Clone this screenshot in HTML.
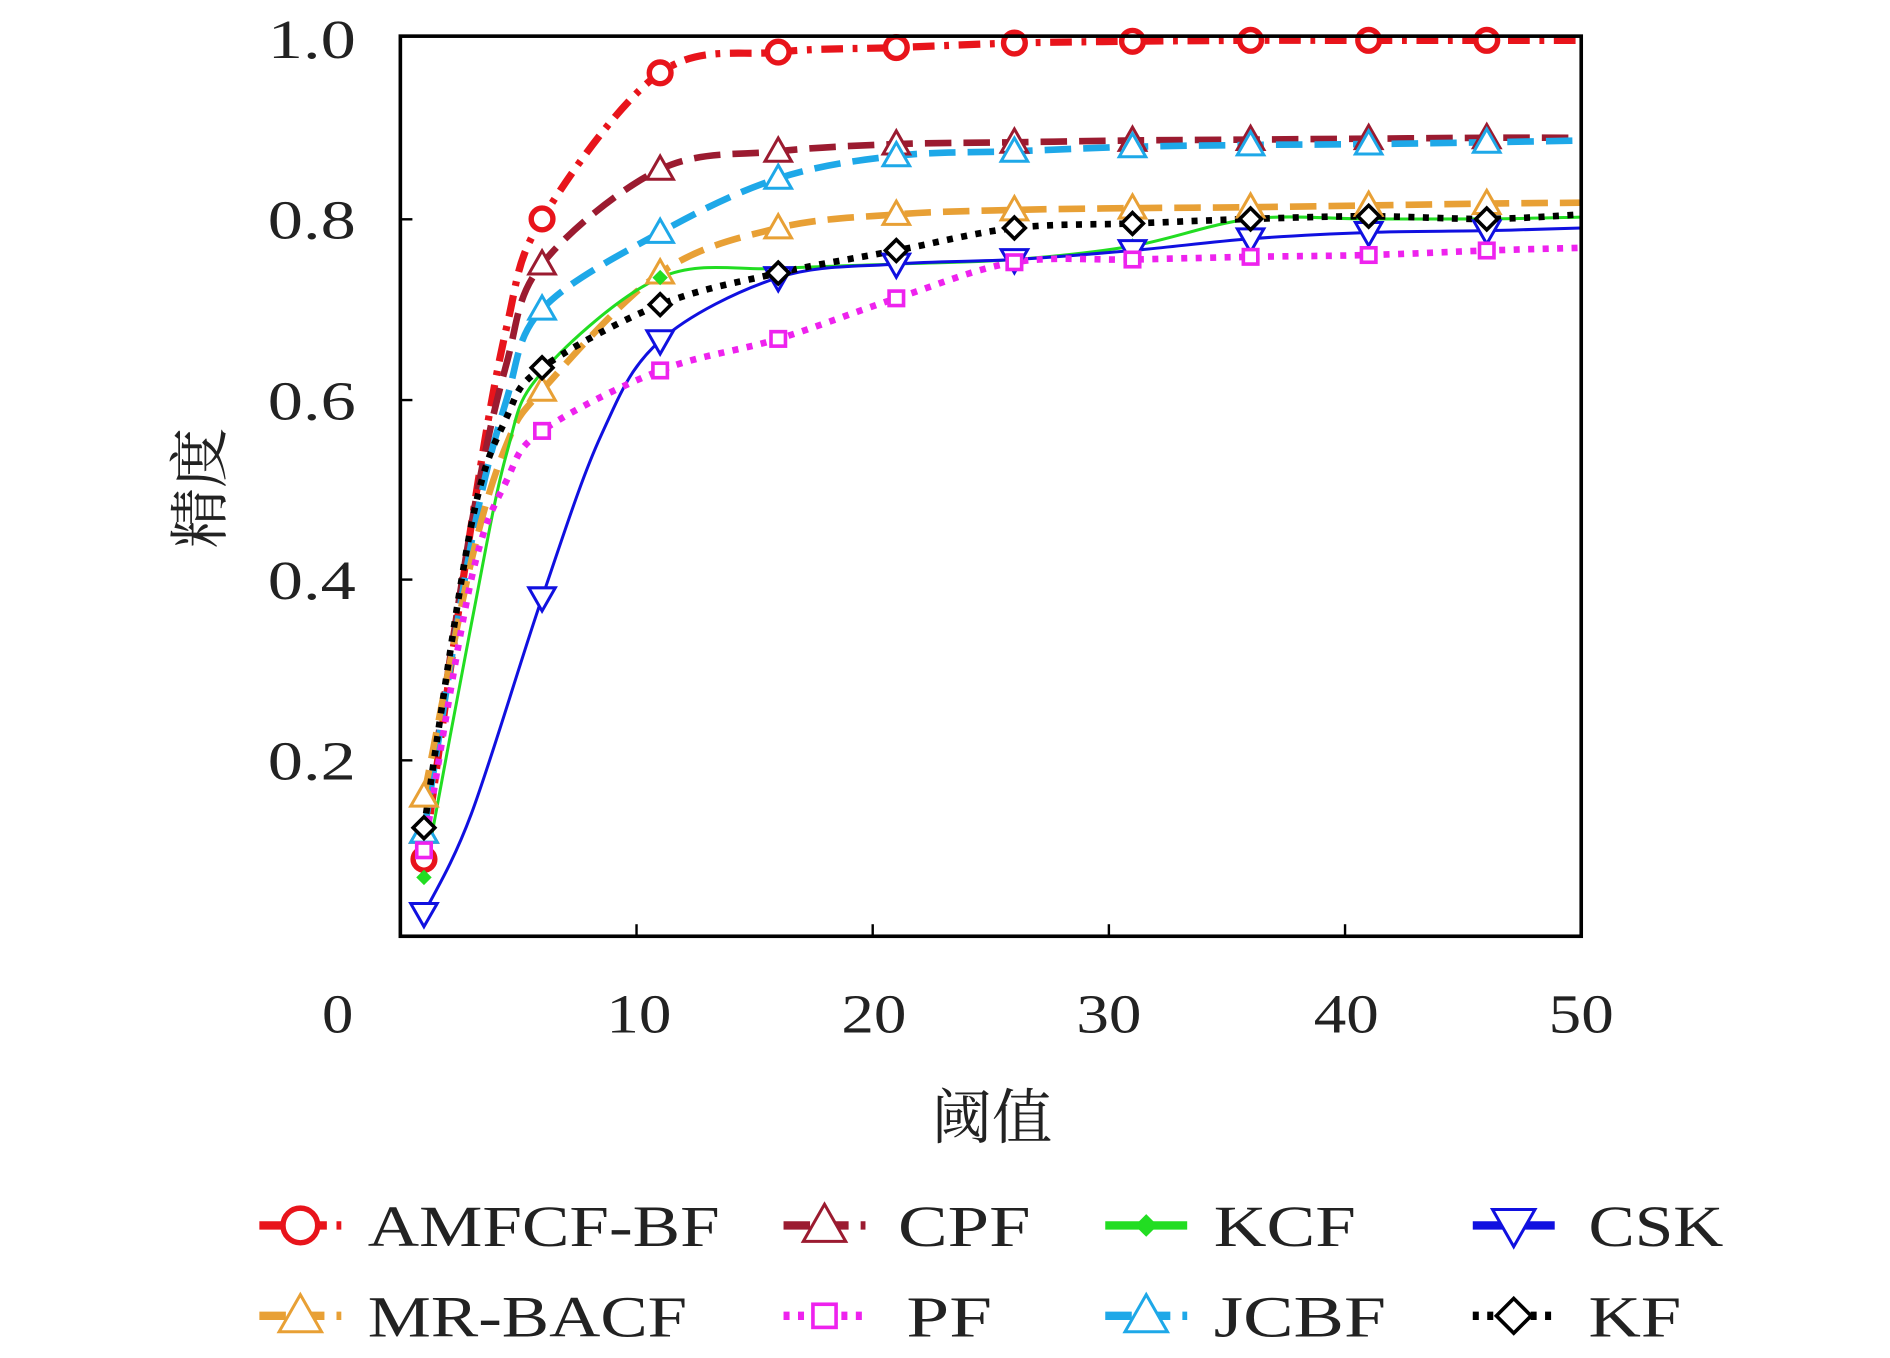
<!DOCTYPE html>
<html><head><meta charset="utf-8"><style>
html,body{margin:0;padding:0;background:#fff;}
svg{display:block;}
text{font-family:"Liberation Serif","Noto Serif CJK SC",serif;fill:#222;}
</style></head><body>
<svg id="s" width="1890" height="1358" viewBox="0 0 1568 1127" xmlns="http://www.w3.org/2000/svg">
<rect x="0" y="0" width="1568" height="1127" fill="#fff"/>
<g id="plot"></g>
<rect x="332" y="30" width="980" height="747" fill="none" stroke="#000" stroke-width="3"/>
<g stroke="#000" stroke-width="2">
<line x1="528" y1="777" x2="528" y2="767"/><line x1="724" y1="777" x2="724" y2="767"/>
<line x1="920" y1="777" x2="920" y2="767"/><line x1="1116" y1="777" x2="1116" y2="767"/>
<line x1="332" y1="182" x2="342" y2="182"/><line x1="332" y1="332" x2="342" y2="332"/>
<line x1="332" y1="481" x2="342" y2="481"/><line x1="332" y1="631" x2="342" y2="631"/>
</g>
<g font-size="46" lengthAdjust="spacingAndGlyphs">
<text x="222" y="48" textLength="73" lengthAdjust="spacingAndGlyphs">1.0</text>
<text x="222" y="198" textLength="73" lengthAdjust="spacingAndGlyphs">0.8</text>
<text x="222" y="348" textLength="73" lengthAdjust="spacingAndGlyphs">0.6</text>
<text x="222" y="497" textLength="73" lengthAdjust="spacingAndGlyphs">0.4</text>
<text x="222" y="647" textLength="73" lengthAdjust="spacingAndGlyphs">0.2</text>
</g>
<g font-size="46">
<text x="267" y="857" textLength="26" lengthAdjust="spacingAndGlyphs">0</text>
<text x="503" y="857" textLength="54" lengthAdjust="spacingAndGlyphs">10</text>
<text x="698" y="857" textLength="54" lengthAdjust="spacingAndGlyphs">20</text>
<text x="893" y="857" textLength="54" lengthAdjust="spacingAndGlyphs">30</text>
<text x="1090" y="857" textLength="54" lengthAdjust="spacingAndGlyphs">40</text>
<text x="1285" y="857" textLength="54" lengthAdjust="spacingAndGlyphs">50</text>
</g>
<text x="823" y="945" font-size="50" text-anchor="middle">阈值</text>
<text transform="translate(183,405) rotate(-90)" font-size="50" text-anchor="middle">精度</text>
<g id="legend" font-size="48">
<text x="305" y="1034" textLength="292" lengthAdjust="spacingAndGlyphs">AMFCF-BF</text>
<text x="745" y="1034" textLength="110" lengthAdjust="spacingAndGlyphs">CPF</text>
<text x="1007" y="1034" textLength="118" lengthAdjust="spacingAndGlyphs">KCF</text>
<text x="1318" y="1034" textLength="112" lengthAdjust="spacingAndGlyphs">CSK</text>
<text x="305" y="1109" textLength="265" lengthAdjust="spacingAndGlyphs">MR-BACF</text>
<text x="752" y="1109" textLength="71" lengthAdjust="spacingAndGlyphs">PF</text>
<text x="1007" y="1109" textLength="143" lengthAdjust="spacingAndGlyphs">JCBF</text>
<text x="1318" y="1109" textLength="77" lengthAdjust="spacingAndGlyphs">KF</text>
</g>
</svg>
<script>
const NS="http://www.w3.org/2000/svg";
const X=v=>332+19.6*v, Y=v=>32+(1-v)*748.5;
const xs=[1,6,11,16,21,26,31,36,41,46,50];
const S=[
 {c:"#e8141b",w:6,d:"18 8 4 8",m:"circ",v:[0.09,0.80,0.962,0.985,0.99,0.995,0.997,0.998,0.998,0.998,0.998],ex:[[3,0.46],[4.5,0.68]]},
 {c:"#9b1b30",w:5.5,d:"22 10",m:"tri",v:[0.12,0.75,0.855,0.875,0.883,0.885,0.887,0.888,0.889,0.89,0.89],ex:[[3,0.46],[4.5,0.64]]},
 {c:"#1ea8e8",w:5.5,d:"22 10",m:"tri",v:[0.12,0.70,0.785,0.845,0.87,0.875,0.88,0.882,0.883,0.885,0.887],ex:[[3,0.44],[4.5,0.6]]},
 {c:"#e8a035",w:5.5,d:"22 10",m:"tri",v:[0.16,0.61,0.74,0.79,0.805,0.81,0.812,0.813,0.815,0.817,0.818],ex:[[3,0.42],[4.5,0.55]]},
 {c:"#22dd22",w:2.5,d:"",m:"dia",v:[0.07,0.63,0.735,0.745,0.75,0.755,0.77,0.80,0.80,0.80,0.802],ex:[[3,0.35],[4.5,0.54]]},
 {c:"#1010e0",w:2.5,d:"",m:"dtri",v:[0.03,0.38,0.665,0.735,0.75,0.755,0.765,0.778,0.785,0.787,0.79],ex:[[3,0.14],[8.5,0.56]]},
 {c:"#ee22ee",w:5.5,d:"5 7",m:"sq",v:[0.10,0.565,0.632,0.667,0.712,0.752,0.755,0.758,0.76,0.765,0.768],ex:[[3,0.40],[4.5,0.51]]},
 {c:"#000",w:5.5,d:"5 7",m:"kd",v:[0.125,0.635,0.705,0.74,0.765,0.79,0.795,0.80,0.803,0.80,0.805],ex:[[3,0.46],[4.5,0.58]]}
];
const g=document.getElementById("plot");
function el(t,a,p){const e=document.createElementNS(NS,t);for(const k in a)e.setAttribute(k,a[k]);(p||g).appendChild(e);return e;}
function marker(type,x,y,c,s,p){
 if(type=="circ"){el("circle",{cx:x,cy:y,r:9*s,fill:"#fff",stroke:c,"stroke-width":4.5},p);}
 else if(type=="tri"){const r=11*s;el("polygon",{points:`${x},${y-r} ${x+r},${y+r*0.75} ${x-r},${y+r*0.75}`,fill:"#fff",stroke:c,"stroke-width":2.5},p);}
 else if(type=="dtri"){const r=11*s;el("polygon",{points:`${x},${y+r} ${x+r},${y-r*0.75} ${x-r},${y-r*0.75}`,fill:"#fff",stroke:c,"stroke-width":2.5},p);}
 else if(type=="dia"){const r=5*s;el("polygon",{points:`${x},${y-r} ${x+r},${y} ${x},${y+r} ${x-r},${y}`,fill:c,stroke:c,"stroke-width":2},p);}
 else if(type=="sq"){const r=6*s;el("rect",{x:x-r,y:y-r,width:2*r,height:2*r,fill:"#fff",stroke:c,"stroke-width":3},p);}
 else if(type=="kd"){const r=9*s;el("polygon",{points:`${x},${y-r} ${x+r},${y} ${x},${y+r} ${x-r},${y}`,fill:"#fff",stroke:c,"stroke-width":3},p);}
}
S.forEach(s=>{
 let pts=xs.map((x,i)=>[x,s.v[i]]).concat(s.ex).sort((a,b)=>a[0]-b[0]).map(p=>[X(p[0]),Y(p[1])]);
 let d=`M${pts[0][0]},${pts[0][1]}`;
 for(let i=0;i<pts.length-1;i++){
  const p0=pts[Math.max(0,i-1)],p1=pts[i],p2=pts[i+1],p3=pts[Math.min(pts.length-1,i+2)];
  let c1y=p1[1]+(p2[1]-p0[1])/6,c2y=p2[1]-(p3[1]-p1[1])/6;
  d+=` C${p1[0]+(p2[0]-p0[0])/6},${c1y} ${p2[0]-(p3[0]-p1[0])/6},${c2y} ${p2[0]},${p2[1]}`;
 }
 el("path",{d:d,fill:"none",stroke:s.c,"stroke-width":s.w,"stroke-dasharray":s.d,"stroke-linejoin":"round"});
});
S.forEach(s=>{xs.slice(0,10).forEach((x,i)=>marker(s.m,X(x),Y(s.v[i]),s.c,1));});
const L=document.getElementById("legend");
const leg=[[0,215,1017],[1,650,1017],[4,917,1017],[5,1222,1017],[3,215,1092],[6,650,1092],[2,917,1092],[7,1222,1092]];
leg.forEach(([i,x,y])=>{const s=S[i];
 el("line",{x1:x,y1:y,x2:x+68,y2:y,stroke:s.c,"stroke-width":7,"stroke-dasharray":s.d},L);
 marker(s.m,x+34,y,s.c,1.6,L);
});
</script>
</body></html>
